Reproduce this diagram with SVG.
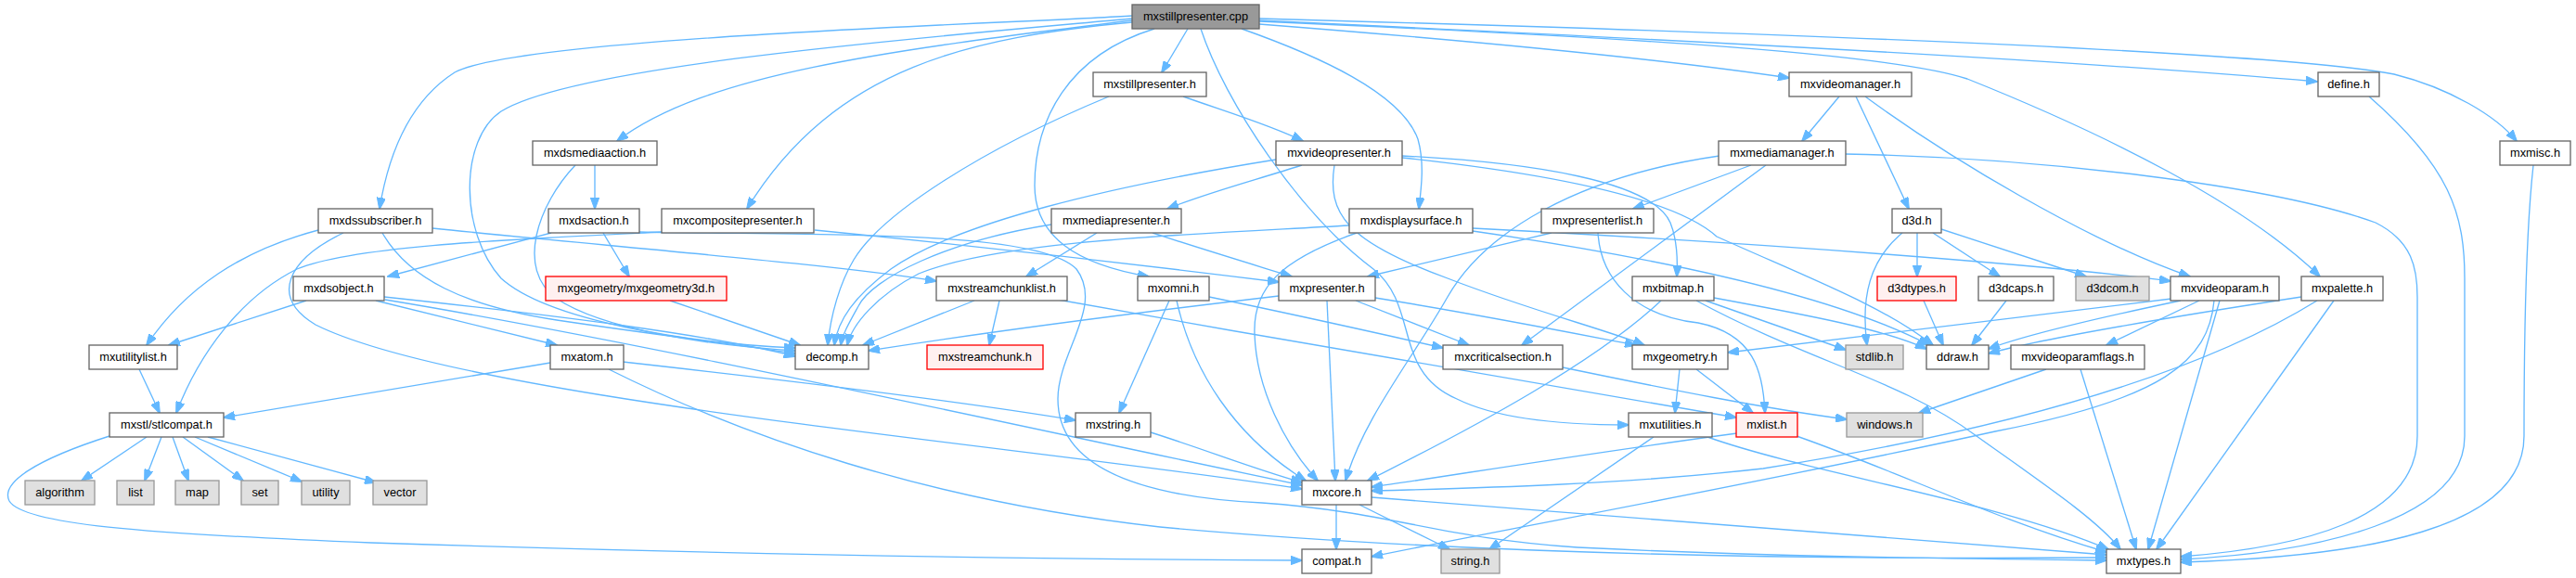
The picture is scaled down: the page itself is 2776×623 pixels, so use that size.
<svg xmlns="http://www.w3.org/2000/svg" width="2776" height="623" viewBox="0 0 2776 623">
<style>
rect{stroke-width:1.33}
.n rect{fill:#ffffff;stroke:#666666}
.g rect{fill:#e0e0e0;stroke:#999999}
.r rect{fill:#fff0f0;stroke:#ff0000}
.root rect{fill:#999999;stroke:#666666}
text{font-family:"Liberation Sans",Arial,Helvetica,sans-serif;font-size:12.8px;text-anchor:middle;fill:#000000}
#edges path{fill:none;stroke:#63b8ff;stroke-width:1.33;marker-end:url(#ah)}
</style>
<defs>
<marker id="ah" markerUnits="userSpaceOnUse" viewBox="0 0 13 9.4" markerWidth="13" markerHeight="9.4" refX="12" refY="4.7" orient="auto">
<path d="M0,0 L13,4.7 L0,9.4 z" fill="#63b8ff" stroke="#63b8ff" stroke-width="1"/>
</marker>
</defs>
<rect width="2776" height="623" fill="#ffffff"/>
<g id="edges">
<path d="M1220,17 C1100,25 560,40 490,78 C440,110 418,170 409,225"/>
<path d="M1220,20 C1000,40 620,70 540,120 C495,150 495,250 540,300 C590,345 740,370 857,375"/>
<path d="M1220,22 C950,55 760,80 665,152"/>
<path d="M1220,24 C1050,40 900,70 805,225"/>
<path d="M1244,31 C1150,60 1115,130 1115,200 C1115,255 1160,285 1238,298"/>
<path d="M1280,31 L1252,78"/>
<path d="M1294,31 C1320,110 1400,230 1480,290 C1530,330 1500,400 1570,430 C1620,455 1700,458 1755,458"/>
<path d="M1338,31 C1420,60 1510,100 1528,150 C1535,175 1532,200 1529,225"/>
<path d="M1357,26 C1600,45 1800,65 1928,84"/>
<path d="M1357,22 C1700,38 2200,62 2497,88"/>
<path d="M1357,20 C1900,35 2450,55 2580,80 C2640,95 2690,125 2712,152"/>
<path d="M1357,23 C1700,38 2030,55 2120,85 C2270,145 2420,220 2500,298"/>
<path d="M1195,104 C1060,160 950,230 920,280 C905,305 895,340 892,372"/>
<path d="M1275,104 C1320,120 1370,135 1404,152"/>
<path d="M1982,104 L1942,152"/>
<path d="M2000,104 L2057,225"/>
<path d="M2010,104 C2100,170 2250,260 2360,298"/>
<path d="M2553,104 C2640,180 2656,230 2656,300 L2656,470 C2656,560 2500,595 2350,603"/>
<path d="M1988,166 C2200,170 2450,200 2560,240 C2600,260 2605,290 2605,320 L2605,470 C2605,560 2480,590 2350,600"/>
<path d="M2730,178 C2722,250 2720,350 2720,470 C2720,570 2550,600 2350,606"/>
<path d="M620,178 C580,220 555,290 600,322 C650,355 760,372 857,378"/>
<path d="M641,178 L641,225"/>
<path d="M1375,172 C1200,200 1030,240 960,290 C920,320 903,345 899,372"/>
<path d="M1403,178 C1350,195 1300,208 1258,225"/>
<path d="M1511,168 C1650,175 1780,195 1800,240 C1808,260 1808,280 1807,298"/>
<path d="M1511,170 C1650,185 1800,210 1850,255 C1950,300 2030,330 2083,372"/>
<path d="M1438,178 C1430,230 1450,260 1560,300 C1650,335 1730,355 1772,372"/>
<path d="M1853,168 C1700,190 1600,250 1560,320 C1520,390 1470,450 1450,518"/>
<path d="M1887,178 L1760,225"/>
<path d="M1903,178 L1640,372"/>
<path d="M343,248 C260,270 200,310 158,372"/>
<path d="M370,251 C310,280 290,320 340,350 C500,430 1100,480 1403,527"/>
<path d="M412,251 C440,300 500,330 600,345 C700,360 800,372 857,381"/>
<path d="M466,246 C650,265 900,285 1009,303"/>
<path d="M594,251 L418,298"/>
<path d="M650,251 L678,298"/>
<path d="M689,250 C900,254 1120,248 1160,290 C1190,330 1140,380 1140,430 C1140,500 1220,535 1360,542 C1500,552 1550,580 1700,590 C1900,600 2100,602 2270,604"/>
<path d="M878,248 C1050,265 1250,288 1378,304"/>
<path d="M713,250 C550,258 380,265 320,290 C260,320 215,380 190,445"/>
<path d="M1133,242 C1020,260 940,300 925,330 C915,348 908,360 906,372"/>
<path d="M1182,251 L1106,298"/>
<path d="M1242,251 C1300,270 1350,285 1392,298"/>
<path d="M1454,243 C1300,252 1080,258 990,295 C945,318 918,350 913,372"/>
<path d="M1462,251 C1380,280 1350,310 1352,360 C1354,420 1385,480 1420,518"/>
<path d="M1587,246 C1900,262 2200,285 2339,303"/>
<path d="M1587,249 C1800,280 1980,320 2079,372"/>
<path d="M1672,251 L1474,298"/>
<path d="M1722,251 C1725,300 1760,340 1830,348 C1890,360 1900,400 1902,445"/>
<path d="M2050,251 C2015,280 2005,320 2012,372"/>
<path d="M2066,251 L2066,298"/>
<path d="M2083,251 L2155,298"/>
<path d="M2092,247 L2248,298"/>
<path d="M330,324 L182,372"/>
<path d="M405,324 L600,372"/>
<path d="M414,320 C600,340 760,360 857,384"/>
<path d="M415,323 C700,370 1100,460 1403,523"/>
<path d="M722,324 L862,372"/>
<path d="M1050,324 L930,372"/>
<path d="M1077,324 L1066,372"/>
<path d="M1140,323 C1400,370 1700,420 1871,450"/>
<path d="M1260,324 L1206,445"/>
<path d="M1268,324 C1285,400 1330,470 1407,518"/>
<path d="M1303,320 C1400,340 1480,358 1555,375"/>
<path d="M1378,319 C1200,340 1050,360 936,378"/>
<path d="M1430,324 L1439,518"/>
<path d="M1461,324 L1583,372"/>
<path d="M1482,321 C1600,340 1700,360 1763,372"/>
<path d="M1790,324 C1720,390 1590,460 1474,518"/>
<path d="M1838,324 L1989,377"/>
<path d="M1847,321 C1950,340 2030,355 2076,376"/>
<path d="M1828,324 C1950,390 2050,410 2130,470 C2200,520 2260,560 2285,592"/>
<path d="M2073,324 L2094,372"/>
<path d="M2162,324 L2125,372"/>
<path d="M2350,324 C2250,345 2180,362 2143,376"/>
<path d="M2370,324 L2270,372"/>
<path d="M2392,324 L2315,592"/>
<path d="M2386,324 C2380,390 2330,430 2150,465 C1900,520 1650,565 1478,600"/>
<path d="M2340,322 C2150,345 1980,365 1862,380"/>
<path d="M2480,320 C2350,340 2200,365 2143,381"/>
<path d="M2497,324 C2350,415 2120,470 1900,505 C1750,522 1600,526 1478,529"/>
<path d="M2515,324 L2324,592"/>
<path d="M2205,398 L2068,445"/>
<path d="M2242,398 L2302,592"/>
<path d="M593,391 L241,450"/>
<path d="M671,390 C850,410 1050,435 1159,453"/>
<path d="M656,398 C800,470 1000,540 1250,568 C1600,600 2000,603 2270,601"/>
<path d="M150,398 L172,445"/>
<path d="M158,471 L88,518"/>
<path d="M174,471 L156,518"/>
<path d="M186,471 L203,518"/>
<path d="M197,471 L262,518"/>
<path d="M210,471 L325,519"/>
<path d="M224,471 L405,520"/>
<path d="M118,470 C40,495 0,520 10,540 C25,565 150,575 400,585 C800,598 1150,603 1403,604"/>
<path d="M1240,466 C1300,485 1350,505 1403,520"/>
<path d="M1684,396 C1800,420 1900,440 1990,452"/>
<path d="M1810,398 L1805,445"/>
<path d="M1828,398 L1889,445"/>
<path d="M1782,471 L1605,592"/>
<path d="M1840,471 C1950,510 2150,540 2272,592"/>
<path d="M1872,467 C1700,490 1550,515 1478,525"/>
<path d="M1936,470 C2050,510 2150,560 2270,595"/>
<path d="M1440,544 L1440,592"/>
<path d="M1465,544 L1562,592"/>
<path d="M1478,536 C1800,560 2100,585 2270,598"/>
</g>
<g id="node_cpp" class="root"><rect x="1220" y="5" width="137" height="26"/><text x="1288.5" y="22">mxstillpresenter.cpp</text></g>
<g id="node_mxstillpresenter_h" class="n"><rect x="1178" y="78" width="122" height="26"/><text x="1239" y="95">mxstillpresenter.h</text></g>
<g id="node_mxvideomanager_h" class="n"><rect x="1928" y="78" width="132" height="26"/><text x="1994" y="95">mxvideomanager.h</text></g>
<g id="node_define_h" class="n"><rect x="2498" y="78" width="66" height="26"/><text x="2531" y="95">define.h</text></g>
<g id="node_mxdsmediaaction_h" class="n"><rect x="574" y="152" width="134" height="26"/><text x="641" y="169">mxdsmediaaction.h</text></g>
<g id="node_mxvideopresenter_h" class="n"><rect x="1375" y="152" width="136" height="26"/><text x="1443" y="169">mxvideopresenter.h</text></g>
<g id="node_mxmediamanager_h" class="n"><rect x="1852" y="152" width="137" height="26"/><text x="1920.5" y="169">mxmediamanager.h</text></g>
<g id="node_mxmisc_h" class="n"><rect x="2694" y="152" width="76" height="26"/><text x="2732" y="169">mxmisc.h</text></g>
<g id="node_mxdssubscriber_h" class="n"><rect x="343" y="225" width="123" height="26"/><text x="404.5" y="242">mxdssubscriber.h</text></g>
<g id="node_mxdsaction_h" class="n"><rect x="591" y="225" width="98" height="26"/><text x="640" y="242">mxdsaction.h</text></g>
<g id="node_mxcompositepresenter_h" class="n"><rect x="713" y="225" width="164" height="26"/><text x="795" y="242">mxcompositepresenter.h</text></g>
<g id="node_mxmediapresenter_h" class="n"><rect x="1133" y="225" width="140" height="26"/><text x="1203" y="242">mxmediapresenter.h</text></g>
<g id="node_mxdisplaysurface_h" class="n"><rect x="1454" y="225" width="133" height="26"/><text x="1520.5" y="242">mxdisplaysurface.h</text></g>
<g id="node_mxpresenterlist_h" class="n"><rect x="1661" y="225" width="121" height="26"/><text x="1721.5" y="242">mxpresenterlist.h</text></g>
<g id="node_d3d_h" class="n"><rect x="2039" y="225" width="53" height="26"/><text x="2065.5" y="242">d3d.h</text></g>
<g id="node_mxdsobject_h" class="n"><rect x="316" y="298" width="98" height="26"/><text x="365" y="315">mxdsobject.h</text></g>
<g id="node_mxgeometry3d_h" class="r"><rect x="588" y="298" width="195" height="26"/><text x="685.5" y="315">mxgeometry/mxgeometry3d.h</text></g>
<g id="node_mxstreamchunklist_h" class="n"><rect x="1009" y="298" width="141" height="26"/><text x="1079.5" y="315">mxstreamchunklist.h</text></g>
<g id="node_mxomni_h" class="n"><rect x="1226" y="298" width="77" height="26"/><text x="1264.5" y="315">mxomni.h</text></g>
<g id="node_mxpresenter_h" class="n"><rect x="1378" y="298" width="104" height="26"/><text x="1430" y="315">mxpresenter.h</text></g>
<g id="node_mxbitmap_h" class="n"><rect x="1759" y="298" width="88" height="26"/><text x="1803" y="315">mxbitmap.h</text></g>
<g id="node_d3dtypes_h" class="r"><rect x="2023" y="298" width="85" height="26"/><text x="2065.5" y="315">d3dtypes.h</text></g>
<g id="node_d3dcaps_h" class="n"><rect x="2132" y="298" width="81" height="26"/><text x="2172.5" y="315">d3dcaps.h</text></g>
<g id="node_d3dcom_h" class="g"><rect x="2237" y="298" width="79" height="26"/><text x="2276.5" y="315">d3dcom.h</text></g>
<g id="node_mxvideoparam_h" class="n"><rect x="2339" y="298" width="117" height="26"/><text x="2397.5" y="315">mxvideoparam.h</text></g>
<g id="node_mxpalette_h" class="n"><rect x="2480" y="298" width="88" height="26"/><text x="2524" y="315">mxpalette.h</text></g>
<g id="node_mxutilitylist_h" class="n"><rect x="96" y="372" width="95" height="26"/><text x="143.5" y="389">mxutilitylist.h</text></g>
<g id="node_mxatom_h" class="n"><rect x="593" y="372" width="79" height="26"/><text x="632.5" y="389">mxatom.h</text></g>
<g id="node_decomp_h" class="n"><rect x="857" y="372" width="79" height="26"/><text x="896.5" y="389">decomp.h</text></g>
<g id="node_mxstreamchunk_h" class="r"><rect x="999" y="372" width="125" height="26"/><text x="1061.5" y="389">mxstreamchunk.h</text></g>
<g id="node_mxcriticalsection_h" class="n"><rect x="1555" y="372" width="129" height="26"/><text x="1619.5" y="389">mxcriticalsection.h</text></g>
<g id="node_mxgeometry_h" class="n"><rect x="1759" y="372" width="103" height="26"/><text x="1810.5" y="389">mxgeometry.h</text></g>
<g id="node_stdlib_h" class="g"><rect x="1989" y="372" width="62" height="26"/><text x="2020" y="389">stdlib.h</text></g>
<g id="node_ddraw_h" class="n"><rect x="2076" y="372" width="67" height="26"/><text x="2109.5" y="389">ddraw.h</text></g>
<g id="node_mxvideoparamflags_h" class="n"><rect x="2167" y="372" width="144" height="26"/><text x="2239" y="389">mxvideoparamflags.h</text></g>
<g id="node_stlcompat_h" class="n"><rect x="118" y="445" width="123" height="26"/><text x="179.5" y="462">mxstl/stlcompat.h</text></g>
<g id="node_mxstring_h" class="n"><rect x="1159" y="445" width="81" height="26"/><text x="1199.5" y="462">mxstring.h</text></g>
<g id="node_mxutilities_h" class="n"><rect x="1755" y="445" width="90" height="26"/><text x="1800" y="462">mxutilities.h</text></g>
<g id="node_mxlist_h" class="r"><rect x="1871" y="445" width="66" height="26"/><text x="1904" y="462">mxlist.h</text></g>
<g id="node_windows_h" class="g"><rect x="1990" y="445" width="82" height="26"/><text x="2031" y="462">windows.h</text></g>
<g id="node_algorithm" class="g"><rect x="27" y="518" width="75" height="26"/><text x="64.5" y="535">algorithm</text></g>
<g id="node_list" class="g"><rect x="126" y="518" width="40" height="26"/><text x="146" y="535">list</text></g>
<g id="node_map" class="g"><rect x="189" y="518" width="47" height="26"/><text x="212.5" y="535">map</text></g>
<g id="node_set" class="g"><rect x="260" y="518" width="40" height="26"/><text x="280" y="535">set</text></g>
<g id="node_utility" class="g"><rect x="325" y="518" width="52" height="26"/><text x="351" y="535">utility</text></g>
<g id="node_vector" class="g"><rect x="402" y="518" width="58" height="26"/><text x="431" y="535">vector</text></g>
<g id="node_mxcore_h" class="n"><rect x="1403" y="518" width="75" height="26"/><text x="1440.5" y="535">mxcore.h</text></g>
<g id="node_compat_h" class="n"><rect x="1403" y="592" width="75" height="26"/><text x="1440.5" y="609">compat.h</text></g>
<g id="node_string_h" class="g"><rect x="1553" y="592" width="63" height="26"/><text x="1584.5" y="609">string.h</text></g>
<g id="node_mxtypes_h" class="n"><rect x="2270" y="592" width="80" height="26"/><text x="2310" y="609">mxtypes.h</text></g>
</svg>
